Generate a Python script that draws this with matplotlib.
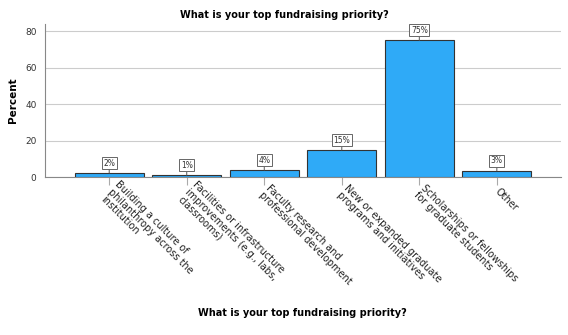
import matplotlib
matplotlib.use('Agg')
import matplotlib.pyplot as plt

categories = ['Building a culture of\nphilanthropy across the\ninstitution',
              'Facilities or infrastructure\nimprovements (e.g., labs,\nclassrooms)',
              'Faculty research and\nprofessional development',
              'New or expanded graduate\nprograms and initiatives',
              'Scholarships or fellowships\nfor graduate students',
              'Other']
percent = [2.2, 0.9, 3.8, 14.8, 75.0, 3.4]
labels = ['2%', '1%', '4%', '15%', '75%', '3%']
yticks = [0, 20, 40, 60, 80]

fig = plt.figure(figsize=(5.68, 3.35), dpi=100)
ax = fig.add_axes([0.079, 0.4716, 0.909, 0.4567])

x = range(len(categories))
ax.bar(x, percent, width=0.89, color='#2FAAF7', edgecolor='#333333', linewidth=0.8, zorder=3)

for xi, v, lab in zip(x, percent, labels):
    ax.annotate(lab, xy=(xi, v), xytext=(0, 10), textcoords='offset pixels',
                ha='center', va='center', fontsize=5.5, color='#333333',
                bbox=dict(boxstyle='square,pad=0.2', fc='white', ec='#666666', lw=0.7),
                arrowprops=dict(arrowstyle='-', color='#555555', lw=0.7,
                                shrinkA=0, shrinkB=0), zorder=4)

ax.set_xlim(-0.83, 5.83)
ax.set_ylim(0, 84)
ax.set_yticks(yticks)
ax.yaxis.grid(True, color='#cccccc', linewidth=0.8, zorder=0)
ax.set_axisbelow(True)
for s in ['top', 'right']:
    ax.spines[s].set_visible(False)
ax.spines['left'].set_color('#888888')
ax.spines['bottom'].set_color('#888888')
ax.tick_params(axis='y', length=0, labelsize=6.5, labelcolor='#333333', pad=6)
ax.tick_params(axis='x', length=6, color='#aaaaaa', width=0.8)

ax.set_xticks(list(x))
ax.set_xticklabels(categories, rotation=-45, ha='left', va='center',
                   rotation_mode='anchor', fontsize=7, linespacing=1.05)
for t in ax.get_xticklabels():
    t.set_color('#222222')

ax.set_ylabel('Percent', fontsize=7.5, fontweight='bold')
ax.yaxis.set_label_coords(-0.052, 0.5)
fig.text(0.5, 0.955, 'What is your top fundraising priority?', ha='center', va='center',
         fontsize=7, fontweight='bold')
fig.text(0.532, 0.066, 'What is your top fundraising priority?', ha='center', va='center',
         fontsize=7, fontweight='bold')

fig.savefig('out.png', dpi=100)
